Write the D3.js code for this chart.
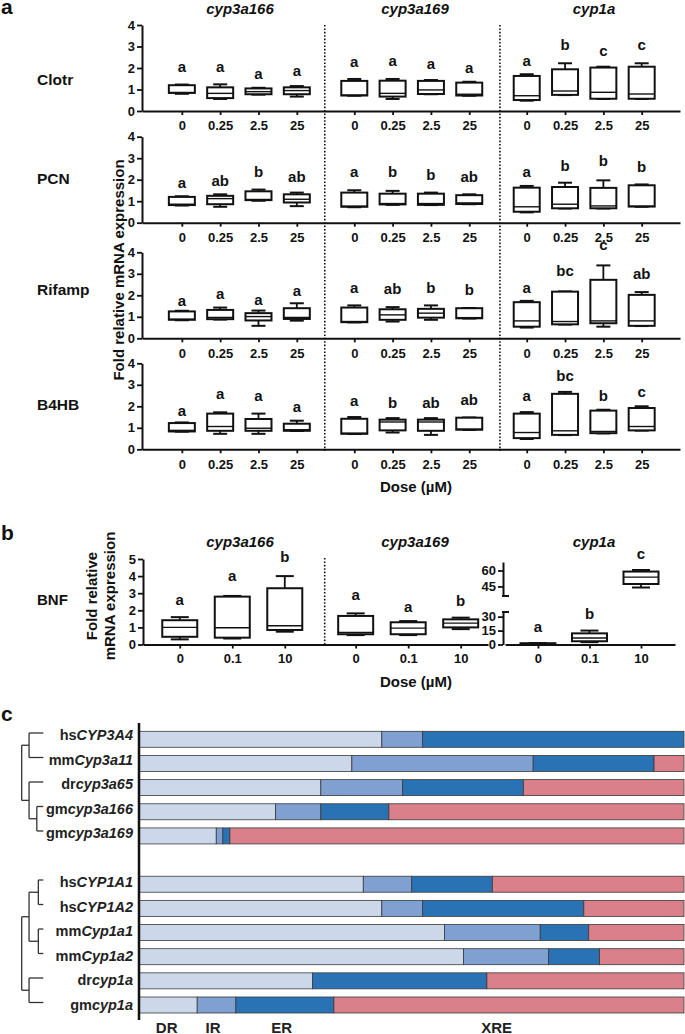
<!DOCTYPE html>
<html><head><meta charset="utf-8">
<script src="https://cdn.jsdelivr.net/npm/d3@7"></script>
<style>
body{margin:0;background:#fff;}
text{font-family:"Liberation Sans",Arial,Helvetica,sans-serif;font-weight:bold;fill:#111;}
</style></head><body>
<svg id="chart" width="685" height="1034"></svg>
<script>
// ---------------- DATA ----------------
// Panel a
const doses = ["0","0.25","2.5","25"];
const genesA = ["cyp3a166","cyp3a169","cyp1a"];
const treatments = ["Clotr","PCN","Rifamp","B4HB"];
const yTicksA = [0,1,2,3,4];
// [min, q1, median, q3, max] for cyp3a166 x4 doses, cyp3a169 x4, cyp1a x4
const clotrBoxes = [
  [0.80,0.84,0.86,1.20,1.23],[0.56,0.60,0.82,1.10,1.24],[0.76,0.78,0.90,1.05,1.08],[0.67,0.78,0.95,1.10,1.16],
  [0.71,0.72,0.74,1.40,1.49],[0.56,0.67,0.82,1.41,1.49],[0.78,0.79,0.98,1.40,1.44],[0.71,0.72,0.78,1.32,1.36],
  [0.48,0.51,0.71,1.63,1.71],[0.74,0.75,0.93,1.94,2.22],[0.56,0.57,0.87,2.02,2.06],[0.56,0.57,0.79,2.06,2.22]];
const pcnBoxes = [
  [0.80,0.82,0.86,1.20,1.23],[0.74,0.86,1.12,1.25,1.32],[1.02,1.05,1.08,1.46,1.54],[0.77,0.94,1.09,1.32,1.40],
  [0.72,0.74,0.77,1.40,1.51],[0.83,0.85,0.89,1.35,1.48],[0.82,0.83,0.89,1.35,1.40],[0.86,0.87,0.92,1.28,1.32],
  [0.48,0.51,0.74,1.63,1.71],[0.66,0.67,0.86,1.66,1.86],[0.66,0.67,0.78,1.62,1.97],[0.74,0.75,0.77,1.74,1.78]];
const rifampBoxes = [
  [0.84,0.86,0.89,1.25,1.28],[0.87,0.89,0.97,1.32,1.43],[0.58,0.83,1.01,1.17,1.29],[0.82,0.90,0.97,1.40,1.63],
  [0.74,0.75,0.78,1.43,1.53],[0.78,0.86,1.09,1.35,1.45],[0.86,0.96,1.17,1.37,1.53],[0.92,0.93,0.96,1.40,1.41],
  [0.50,0.54,0.81,1.68,1.74],[0.64,0.65,0.78,2.17,2.18],[0.54,0.70,0.81,2.72,3.39],[0.57,0.58,0.81,2.02,2.15]];
const b4hbBoxes = [
  [0.82,0.83,0.88,1.22,1.25],[0.72,0.86,1.06,1.66,1.72],[0.72,0.86,0.98,1.41,1.66],[0.85,0.86,0.91,1.19,1.33],
  [0.71,0.72,0.75,1.42,1.50],[0.78,0.88,1.27,1.38,1.45],[0.67,0.86,1.27,1.38,1.45],[0.90,0.91,0.94,1.47,1.48],
  [0.48,0.52,0.78,1.66,1.73],[0.66,0.67,0.86,2.58,2.67],[0.74,0.75,0.83,1.80,1.84],[0.87,0.88,1.06,1.92,2.00]];
const clotrLetters = ["a","a","a","a","a","a","a","a","a","b","c","c"];
const pcnLetters   = ["a","ab","b","ab","a","b","b","ab","a","b","b","b"];
const rifampLetters= ["a","a","a","a","a","ab","b","b","a","bc","c","ab"];
const b4hbLetters  = ["a","a","a","a","a","b","ab","ab","a","bc","b","c"];
const clotrLetterY = [2.06,2.06,1.75,1.88,2.29,2.33,2.22,2.02,2.33,3.07,2.79,3.07];
const pcnLetterY   = [1.85,1.97,2.35,2.12,2.38,2.35,2.23,2.12,2.38,2.66,2.89,2.58];
const rifampLetterY= [1.74,2.07,1.79,2.23,2.37,2.29,2.37,2.26,2.37,3.14,4.36,2.99];
const b4hbLetterY  = [1.81,2.59,2.47,2.00,2.28,2.16,2.16,2.31,2.47,3.41,2.47,2.70];

// Panel b
const bnfDoses = ["0","0.1","10"];
const yTicksB = [0,1,2,3,4,5];
const cyp1aLowTicks = [0,15,30];
const cyp1aHighTicks = [45,60];
const bnfBoxes = [
  [0.30,0.45,1.00,1.42,1.60],[0.35,0.40,0.98,2.80,2.84],[0.75,0.85,1.10,3.29,4.00],
  [0.55,0.60,0.70,1.67,1.82],[0.55,0.60,0.96,1.30,1.37],[0.90,1.00,1.25,1.47,1.57],
  [0.5,0.7,1.0,1.3,1.5],[2.5,3.5,7.0,12.0,15.0],[44,47.3,53.8,59,60.5]];
const bnfLetters = ["a","a","b","a","a","b","a","b","c"];
const bnfLetterY = [2.6,4.0,5.13,2.9,2.18,2.54,19,33,76];

// Panel c
const genePrefix = ["hs","mm","dr","gm","gm","hs","hs","mm","mm","dr","gm"];
const geneName   = ["CYP3A4","Cyp3a11","cyp3a65","cyp3a166","cyp3a169","CYP1A1","CYP1A2","Cyp1a1","Cyp1a2","cyp1a","cyp1a"];
const geneRow    = [0,1,2,3,4,6,7,8,9,10,11];
const elements = ["DR","IR","ER","XRE"];
const drPct  = [44.5,39.0,33.3,25.0,14.1,41.1,44.5,56.0,59.5,31.8,10.6];
const irPct  = [7.5,33.3,15.0,8.3,1.2,8.9,7.5,17.6,15.6,0,7.1];
const erPct  = [48.0,22.2,22.2,12.5,1.3,14.8,29.6,8.9,9.4,32.0,18.0];
const xrePct = [0,5.5,29.5,54.2,83.4,35.2,18.4,17.5,15.5,36.2,64.3];
const elementColors = ["#ccd8ea","#7fa0d0","#2973b5","#d9808a"];
// dendrograms: h = branch position (0 root .. 1 leaf), leaf = row index
const tree1 = {h:0, children:[
  {h:0.34, children:[{h:1,leaf:0},{h:1,leaf:1}]},
  {h:0.34, children:[{h:1,leaf:2},{h:0.70, children:[{h:1,leaf:3},{h:1,leaf:4}]}]}]};
const tree2 = {h:0, children:[
  {h:0.34, children:[{h:0.77, children:[{h:1,leaf:6},{h:1,leaf:7}]},{h:0.77, children:[{h:1,leaf:8},{h:1,leaf:9}]}]},
  {h:0.34, children:[{h:1,leaf:10},{h:1,leaf:11}]}]};

// ---------------- DRAW ----------------
const svg = d3.select("#chart");
svg.append("rect").attr("width",685).attr("height",1034).attr("fill","#fff");
const INK = "#111";
const fmtInt = d3.format("d");

function drawBox(g, cx, w, capW, s, y){
  const [mn,q1,md,q3,mx] = s;
  const gg = g.append("g").attr("stroke",INK).attr("fill","none");
  gg.append("line").attr("x1",cx).attr("x2",cx).attr("y1",y(q3)).attr("y2",y(mx)).attr("stroke-width",1.8);
  gg.append("line").attr("x1",cx-capW/2).attr("x2",cx+capW/2).attr("y1",y(mx)).attr("y2",y(mx)).attr("stroke-width",2);
  gg.append("line").attr("x1",cx).attr("x2",cx).attr("y1",y(q1)).attr("y2",y(mn)).attr("stroke-width",1.8);
  gg.append("line").attr("x1",cx-capW/2).attr("x2",cx+capW/2).attr("y1",y(mn)).attr("y2",y(mn)).attr("stroke-width",2);
  gg.append("rect").attr("x",cx-w/2).attr("y",y(q3)).attr("width",w).attr("height",Math.max(0.5,y(q1)-y(q3)))
    .attr("fill","#fff").attr("stroke-width",2);
  gg.append("line").attr("x1",cx-w/2).attr("x2",cx+w/2).attr("y1",y(md)).attr("y2",y(md)).attr("stroke-width",1.4);
}
function styleAxis(g, fs){
  g.select(".domain").attr("stroke",INK).attr("stroke-width",2);
  g.selectAll(".tick line").attr("stroke",INK).attr("stroke-width",1.8);
  g.selectAll(".tick text").attr("fill",INK).style("font-size",fs+"px").style("font-weight","bold")
    .style("font-family",'"Liberation Sans",Arial,sans-serif');
}

// ---- Panel a ----
svg.append("text").attr("x",1).attr("y",14).style("font-size","21px").text("a");
const rowBase = [111, 222.7, 338.3, 449.3];
const rowLabelY = [80, 179, 290, 405];
const rowH = 86;
const xA = d3.scaleLinear().domain([-1.04, 13]).range([142, 680]);
const posA = genesA.flatMap((g,gi)=>doses.map((d,di)=>gi*4.5+di));
const doseLabelsA = genesA.flatMap(()=>doses);
const statsA = [clotrBoxes,pcnBoxes,rifampBoxes,b4hbBoxes];
const lettersA = [clotrLetters,pcnLetters,rifampLetters,b4hbLetters];
const letterYA = [clotrLetterY,pcnLetterY,rifampLetterY,b4hbLetterY];
const titleXA = [240,415,594];

genesA.forEach((g,i)=>{
  svg.append("text").attr("x",titleXA[i]).attr("y",14).attr("text-anchor","middle")
    .style("font-size","15px").style("font-style","italic").text(g);
});
// dotted separators
[3.73, 8.3].forEach(p=>{
  svg.append("line").attr("x1",xA(p)).attr("x2",xA(p)).attr("y1",25).attr("y2",451)
    .attr("stroke",INK).attr("stroke-width",1.6).attr("stroke-dasharray","1.6,1.8");
});
treatments.forEach((t,r)=>{
  const y = d3.scaleLinear().domain([0,4]).range([rowBase[r], rowBase[r]-rowH]);
  const g = svg.append("g");
  g.append("text").attr("x",37).attr("y",rowLabelY[r]).attr("dy","0.35em").style("font-size","15.5px").text(t);
  const ya = g.append("g").attr("transform",`translate(${xA.range()[0]},0)`)
    .call(d3.axisLeft(y).tickValues(yTicksA).tickFormat(fmtInt).tickSize(5).tickSizeOuter(0).tickPadding(2));
  styleAxis(ya,13);
  const xa = g.append("g").attr("transform",`translate(0,${rowBase[r]})`)
    .call(d3.axisBottom(xA).tickValues(posA).tickFormat((d,i)=>doseLabelsA[i]).tickSize(4).tickSizeOuter(0).tickPadding(6));
  styleAxis(xa,13);
  statsA[r].forEach((s,i)=>{
    drawBox(g, xA(posA[i]), 26, 14, s, y);
    g.append("text").attr("x",xA(posA[i])).attr("y",y(letterYA[r][i])).attr("dy","0.35em")
      .attr("text-anchor","middle").style("font-size","15px").text(lettersA[r][i]);
  });
});
// y label panel a
svg.append("text").attr("transform","translate(119,270) rotate(-90)").attr("text-anchor","middle")
  .attr("dy","0.35em").style("font-size","15px").text("Fold relative mRNA expression");
svg.append("text").attr("x",416).attr("y",492).attr("text-anchor","middle").style("font-size","15px").text("Dose (\u00b5M)");

// ---- Panel b ----
svg.append("text").attr("x",1).attr("y",540).style("font-size","21px").text("b");
svg.append("text").attr("x",37).attr("y",600).attr("dy","0.35em").style("font-size","15px").text("BNF");
const bTitleX = [240,415,594];
genesA.forEach((g,i)=>{
  svg.append("text").attr("x",bTitleX[i]).attr("y",547).attr("text-anchor","middle")
    .style("font-size","15px").style("font-style","italic").text(g);
});
const yB = d3.scaleLinear().domain([0,5]).range([644.5,559]);
const xB1 = d3.scaleLinear().domain([-0.7,5.87]).range([143,488]);
const posB1 = [0,1,2,3.35,4.35,5.35];
const doseLabelsB1 = [...bnfDoses,...bnfDoses];
const gb = svg.append("g");
const yab = gb.append("g").attr("transform",`translate(${xB1.range()[0]},0)`)
  .call(d3.axisLeft(yB).tickValues(yTicksB).tickFormat(fmtInt).tickSize(5).tickSizeOuter(0).tickPadding(2));
styleAxis(yab,13);
const xab = gb.append("g").attr("transform","translate(0,644.5)")
  .call(d3.axisBottom(xB1).tickValues(posB1).tickFormat((d,i)=>doseLabelsB1[i]).tickSize(4).tickSizeOuter(0).tickPadding(5));
styleAxis(xab,13);
gb.append("line").attr("x1",xB1(2.76)).attr("x2",xB1(2.76)).attr("y1",558).attr("y2",644)
  .attr("stroke",INK).attr("stroke-width",1.6).attr("stroke-dasharray","1.6,1.8");
posB1.forEach((p,i)=>{
  drawBox(gb, xB1(p), 35, 18, bnfBoxes[i], yB);
  gb.append("text").attr("x",xB1(p)).attr("y",yB(bnfLetterY[i])).attr("dy","0.35em")
    .attr("text-anchor","middle").style("font-size","15px").text(bnfLetters[i]);
});
// cyp1a with broken axis
const yLow = d3.scaleLinear().domain([0,35]).range([644.5,612]);
const yHigh = d3.scaleLinear().domain([36,68]).range([596,562]);
const yBrk = v => v <= 35 ? yLow(v) : yHigh(v);
const xB2 = d3.scaleLinear().domain([-0.64,2.66]).range([505,675]);
const ax2 = xB2.range()[0]-2;
const yl = gb.append("g").attr("transform",`translate(${ax2},0)`)
  .call(d3.axisLeft(yLow).tickValues(cyp1aLowTicks).tickFormat(fmtInt).tickSize(5).tickSizeOuter(0).tickPadding(2));
styleAxis(yl,13);
const yh = gb.append("g").attr("transform",`translate(${ax2},0)`)
  .call(d3.axisLeft(yHigh).tickValues(cyp1aHighTicks).tickFormat(fmtInt).tickSize(5).tickSizeOuter(0).tickPadding(2));
styleAxis(yh,13);
[yLow.range()[1], yHigh.range()[0]].forEach(yy=>{
  gb.append("line").attr("x1",ax2-1).attr("x2",ax2+6).attr("y1",yy).attr("y2",yy).attr("stroke",INK).attr("stroke-width",2);
});
const xab2 = gb.append("g").attr("transform","translate(0,644.5)")
  .call(d3.axisBottom(xB2).tickValues([0,1,2]).tickFormat((d,i)=>bnfDoses[i]).tickSize(4).tickSizeOuter(0).tickPadding(5));
styleAxis(xab2,13);
[0,1,2].forEach(i=>{
  drawBox(gb, xB2(i), 35, 18, bnfBoxes[6+i], yBrk);
  gb.append("text").attr("x",xB2(i)).attr("y",yBrk(bnfLetterY[6+i])).attr("dy","0.35em")
    .attr("text-anchor","middle").style("font-size","15px").text(bnfLetters[6+i]);
});
const ylabB = svg.append("text").attr("transform","translate(92,596) rotate(-90)").attr("text-anchor","middle")
  .style("font-size","15px");
ylabB.append("tspan").attr("x",0).attr("dy","0.35em").text("Fold relative");
ylabB.append("tspan").attr("x",0).attr("dy","1.2em").text("mRNA expression");
svg.append("text").attr("x",416).attr("y",687).attr("text-anchor","middle").style("font-size","15px").text("Dose (\u00b5M)");

// ---- Panel c ----
svg.append("text").attr("x",1).attr("y",721).style("font-size","21px").text("c");
const yC = d3.scalePoint().domain(d3.range(12)).range([739.3,1005]);
const yLab = d3.scalePoint().domain(d3.range(12)).range([735,1004.5]);
const xC = d3.scaleLinear().domain([0,100]).range([139.5,684]);
const barH = 16;
const rowsC = geneName.map((n,i)=>({DR:drPct[i],IR:irPct[i],ER:erPct[i],XRE:xrePct[i],row:geneRow[i]}));
const stacked = d3.stack().keys(elements)(rowsC);
const gc = svg.append("g");
stacked.forEach((layer,li)=>{
  gc.selectAll(null).data(layer.filter(d=>d[1]-d[0]>0)).enter().append("rect")
    .attr("x",d=>xC(d[0])).attr("width",d=>xC(d[1])-xC(d[0]))
    .attr("y",d=>yC(d.data.row)-barH/2).attr("height",barH)
    .attr("fill",elementColors[li]).attr("stroke","#3a3a3a").attr("stroke-width",0.8);
});
gc.append("line").attr("x1",139).attr("x2",139).attr("y1",723).attr("y2",1020).attr("stroke","#111").attr("stroke-width",2.5);
geneName.forEach((n,i)=>{
  const t = gc.append("text").attr("x",133).attr("y",yLab(geneRow[i])).attr("dy","0.35em")
    .attr("text-anchor","end").style("font-size","14.5px").style("fill","#222");
  t.append("tspan").text(genePrefix[i]);
  t.append("tspan").style("font-style","italic").text(n);
});
const elemX = [166.7,213,281.7,496.7];
elements.forEach((e,i)=>{
  gc.append("text").attr("x",elemX[i]).attr("y",1033).attr("text-anchor","middle")
    .style("font-size","15px").style("fill","#222").text(e);
});
// dendrograms
const xD = d3.scaleLinear().domain([0,1]).range([21.7,43.3]);
function layoutTree(n){
  if(n.children){ n.children.forEach(layoutTree); n.y = (n.children[0].y + n.children[n.children.length-1].y)/2; }
  else n.y = yLab(n.leaf) - 2;
}
function drawTree(n){
  if(!n.children) return;
  gc.append("line").attr("x1",xD(n.h)).attr("x2",xD(n.h)).attr("y1",n.children[0].y).attr("y2",n.children[n.children.length-1].y)
    .attr("stroke","#333").attr("stroke-width",1.3);
  n.children.forEach(c=>{
    gc.append("line").attr("x1",xD(n.h)).attr("x2",xD(c.h)).attr("y1",c.y).attr("y2",c.y)
      .attr("stroke","#333").attr("stroke-width",1.3);
    drawTree(c);
  });
}
[tree1,tree2].forEach(t=>{layoutTree(t); drawTree(t);});
</script></body></html>
